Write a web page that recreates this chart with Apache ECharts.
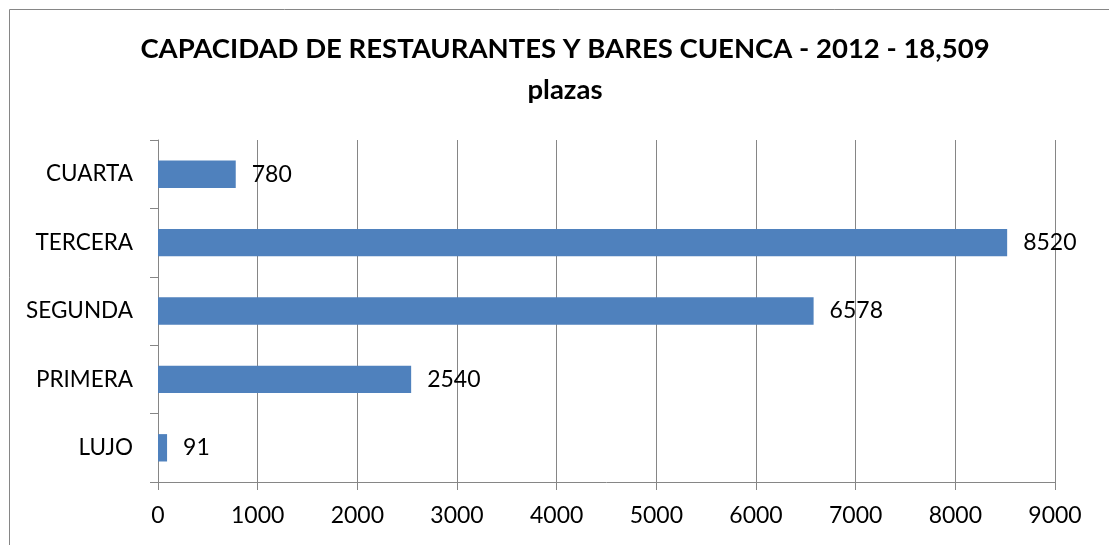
<!DOCTYPE html>
<html>
<head>
<meta charset="utf-8">
<script src="https://cdn.jsdelivr.net/npm/echarts@6/dist/echarts.min.js"></script>
<style>
  html, body { margin: 0; padding: 0; background: #fff; }
  #chart { width: 1109px; height: 545px; }
</style>
</head>
<body>
<div id="chart"></div>
<script>
// datos del grafico
var categorias = ['LUJO', 'PRIMERA', 'SEGUNDA', 'TERCERA', 'CUARTA'];
var plazas = [91, 2540, 6578, 8520, 780];
var titulo = 'CAPACIDAD DE RESTAURANTES Y BARES CUENCA - 2012 - 18,509\nplazas';

var fuente = 'Lato, "Open Sans", sans-serif';
var gris = '#868686';

var myChart = echarts.init(document.getElementById('chart'));

var option = {
  backgroundColor: '#fff',
  animation: false,
  // marco exterior del grafico
  graphic: [
    {
      type: 'rect',
      shape: { x: 9.5, y: 9.5, width: 1200, height: 600 },
      style: { fill: 'none', stroke: gris, lineWidth: 1 },
      silent: true
    }
  ],
  title: {
    text: titulo,
    left: 560,
    textAlign: 'center',
    top: 24,
    textStyle: {
      fontFamily: fuente,
      fontWeight: 'bold',
      fontSize: 27.5,
      lineHeight: 41,
      color: '#000'
    }
  },
  grid: {
    left: 158,
    right: 54,
    top: 140,
    bottom: 63,
    containLabel: false
  },
  xAxis: {
    type: 'value',
    min: 0,
    max: 9000,
    interval: 1000,
    axisLine: { show: true, lineStyle: { color: gris } },
    axisTick: { show: true, length: 8, lineStyle: { color: gris } },
    splitLine: { show: true, lineStyle: { color: gris, width: 1 } },
    axisLabel: {
      margin: 22,
      color: '#000',
      fontFamily: fuente,
      fontSize: 23,
      formatter: function (v) { return String(v); }
    }
  },
  yAxis: {
    type: 'category',
    data: categorias,
    axisLine: { show: true, lineStyle: { color: gris } },
    axisTick: { show: true, length: 8, lineStyle: { color: gris } },
    axisLabel: { margin: 25, color: '#000', fontFamily: fuente, fontSize: 22.5 }
  },
  series: [
    {
      type: 'bar',
      data: plazas,
      barCategoryGap: '60%',
      itemStyle: { color: '#4F81BD' },
      label: {
        show: true,
        position: 'right',
        distance: 16,
        color: '#000',
        fontFamily: fuente,
        fontSize: 23
      }
    }
  ]
};

myChart.setOption(option);
</script>
</body>
</html>
